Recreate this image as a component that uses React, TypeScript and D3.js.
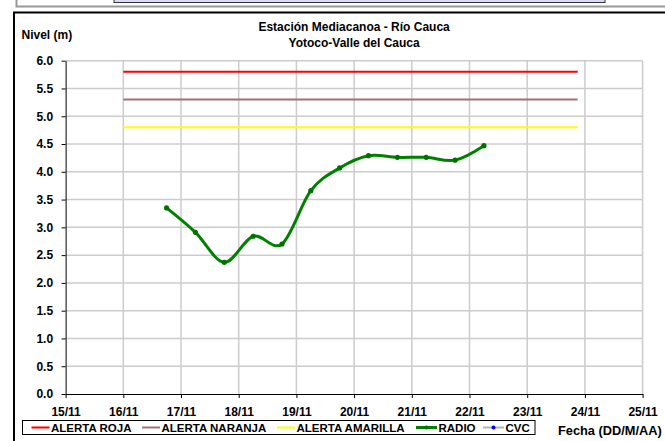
import React, { useEffect, useRef } from 'react';
import * as d3 from 'd3';

// Nivel del río (m), lecturas cada 12 horas
const radioTimes = [
  '16/11/2011 18:00', '17/11/2011 06:00', '17/11/2011 18:00', '18/11/2011 06:00',
  '18/11/2011 18:00', '19/11/2011 06:00', '19/11/2011 18:00', '20/11/2011 06:00',
  '20/11/2011 18:00', '21/11/2011 06:00', '21/11/2011 18:00', '22/11/2011 06:00',
];
const radioLevels = [3.35, 2.91, 2.37, 2.84, 2.7, 3.66, 4.07, 4.29, 4.26, 4.26, 4.21, 4.47];

const alertNames = ['ALERTA ROJA', 'ALERTA NARANJA', 'ALERTA AMARILLA'];
const alertLevels = [5.8, 5.3, 4.8];
const alertColors = ['#ff0000', '#a07272', '#ffff00'];
const alertRange = ['16/11/2011 00:00', '23/11/2011 21:00'];

const xDomain = ['15/11/2011 00:00', '25/11/2011 00:00'];
const yTicks = [0, 0.5, 1, 1.5, 2, 2.5, 3, 3.5, 4, 4.5, 5, 5.5, 6];

const titleLines = ['Estación Mediacanoa - Río Cauca', 'Yotoco-Valle del Cauca'];

const App = () => {
  const ref = useRef<SVGSVGElement | null>(null);

  useEffect(() => {
    if (!ref.current) return;
    const svg = d3.select(ref.current);
    svg.selectAll('*').remove();

    const font = 'Liberation Sans, Arial, sans-serif';
    const parse = d3.timeParse('%d/%m/%Y %H:%M');

    const left = 65.6, right = 642.6, top = 60.7, bottom = 394;

    const x = d3.scaleTime()
      .domain(xDomain.map(d => parse(d) as Date))
      .range([left, right]);
    const y = d3.scaleLinear().domain([0, 6]).range([bottom, top]);

    // frame pieces at the top of the page
    svg.append('rect')
      .attr('x', 114).attr('y', -10).attr('width', 491).attr('height', 12.5)
      .attr('fill', '#d9d9fb').attr('stroke', '#333').attr('stroke-width', 1);
    svg.append('path')
      .attr('d', 'M16.5,0 V6.5 H665')
      .attr('fill', 'none').attr('stroke', '#999').attr('stroke-width', 2);
    svg.append('path')
      .attr('d', 'M14,441 V12.5 H665')
      .attr('fill', 'none').attr('stroke', '#000').attr('stroke-width', 2);

    // grid
    const dayTicks = x.ticks(d3.timeDay.every(1) as d3.TimeInterval);
    svg.append('g').selectAll('line')
      .data(yTicks.filter(d => d > 0))
      .enter().append('line')
      .attr('x1', left).attr('x2', right)
      .attr('y1', d => y(d)).attr('y2', d => y(d))
      .attr('stroke', '#cccccc').attr('stroke-width', 1.5);
    svg.append('g').selectAll('line')
      .data(dayTicks.slice(1))
      .enter().append('line')
      .attr('x1', d => x(d)).attr('x2', d => x(d))
      .attr('y1', top).attr('y2', bottom)
      .attr('stroke', '#cccccc').attr('stroke-width', 1.5);

    // axes
    const yAxis = svg.append('g')
      .attr('transform', `translate(${left},0)`)
      .call(d3.axisLeft(y).tickValues(yTicks).tickSize(4).tickSizeOuter(0).tickFormat(d3.format('.1f')));
    yAxis.select('.domain').attr('stroke', '#000');
    yAxis.selectAll('text')
      .attr('x', -12.5)
      .style('font-family', font).style('font-size', '12px').style('font-weight', 'bold').attr('fill', '#000');

    const xAxis = svg.append('g')
      .attr('transform', `translate(0,${bottom})`)
      .call(d3.axisBottom(x).tickValues(dayTicks).tickSize(4).tickSizeOuter(0)
        .tickFormat(d => d3.timeFormat('%d/%m')(d as Date)));
    xAxis.select('.domain').attr('stroke', '#000');
    xAxis.selectAll('text')
      .attr('y', 13)
      .style('font-family', font).style('font-size', '12px').style('font-weight', 'bold').attr('fill', '#000');

    // alert lines
    const [a0, a1] = alertRange.map(d => parse(d) as Date);
    alertLevels.forEach((lvl, i) => {
      svg.append('line')
        .attr('x1', x(a0)).attr('x2', x(a1))
        .attr('y1', y(lvl)).attr('y2', y(lvl))
        .attr('stroke', alertColors[i]).attr('stroke-width', 2);
    });

    // radio series
    const radio = radioTimes.map((t, i) => ({ t: parse(t) as Date, v: radioLevels[i] }));
    const line = d3.line<{ t: Date; v: number }>()
      .x(d => x(d.t)).y(d => y(d.v))
      .curve(d3.curveCardinal.tension(0));
    svg.append('path')
      .datum(radio)
      .attr('d', line)
      .attr('fill', 'none').attr('stroke', '#008000').attr('stroke-width', 3);
    svg.selectAll('.dot')
      .data(radio)
      .enter().append('circle')
      .attr('class', 'dot')
      .attr('cx', d => x(d.t)).attr('cy', d => y(d.v))
      .attr('r', 2.6).attr('fill', '#007000');

    // titles
    titleLines.forEach((t, i) => {
      svg.append('text')
        .attr('x', (left + right) / 2).attr('y', 31 + i * 15.5)
        .attr('text-anchor', 'middle')
        .style('font-family', font).style('font-size', '12px').style('font-weight', 'bold')
        .text(t);
    });
    svg.append('text')
      .attr('x', 21.5).attr('y', 38.5)
      .style('font-family', font).style('font-size', '12px').style('font-weight', 'bold')
      .text('Nivel (m)');
    svg.append('text')
      .attr('x', 558).attr('y', 434.5)
      .style('font-family', font).style('font-size', '12.8px').style('font-weight', 'bold')
      .text('Fecha (DD/M/AA)');

    // legend
    const lg = svg.append('g');
    lg.append('rect')
      .attr('x', 22.5).attr('y', 420.5).attr('width', 512.5).attr('height', 14)
      .attr('fill', '#fff').attr('stroke', '#000').attr('stroke-width', 1);
    const legendItems = [
      { name: alertNames[0], color: alertColors[0], x: 31.5, dot: null as string | null },
      { name: alertNames[1], color: alertColors[1], x: 142, dot: null },
      { name: alertNames[2], color: alertColors[2], x: 277, dot: null },
      { name: 'RADIO', color: '#008000', x: 416, dot: '#007000' },
      { name: 'CVC', color: '#b4b4b4', x: 483, dot: '#0000ff' },
    ];
    legendItems.forEach(it => {
      const w = it.dot ? 21 : 18;
      lg.append('line')
        .attr('x1', it.x).attr('x2', it.x + w)
        .attr('y1', 427.5).attr('y2', 427.5)
        .attr('stroke', it.color).attr('stroke-width', it.name === 'RADIO' ? 3 : 2);
      if (it.dot) {
        lg.append('circle')
          .attr('cx', it.x + w / 2).attr('cy', 427.5).attr('r', 2)
          .attr('fill', it.dot);
      }
      lg.append('text')
        .attr('x', it.x + w + 1.5).attr('y', 431.8)
        .style('font-family', font).style('font-size', '11.5px').style('font-weight', 'bold')
        .text(it.name);
    });
  }, []);

  return (
    <svg
      ref={ref}
      width={665}
      height={441}
      style={{ position: 'absolute', left: 0, top: 0, background: '#fff' }}
    />
  );
};

export default App;
